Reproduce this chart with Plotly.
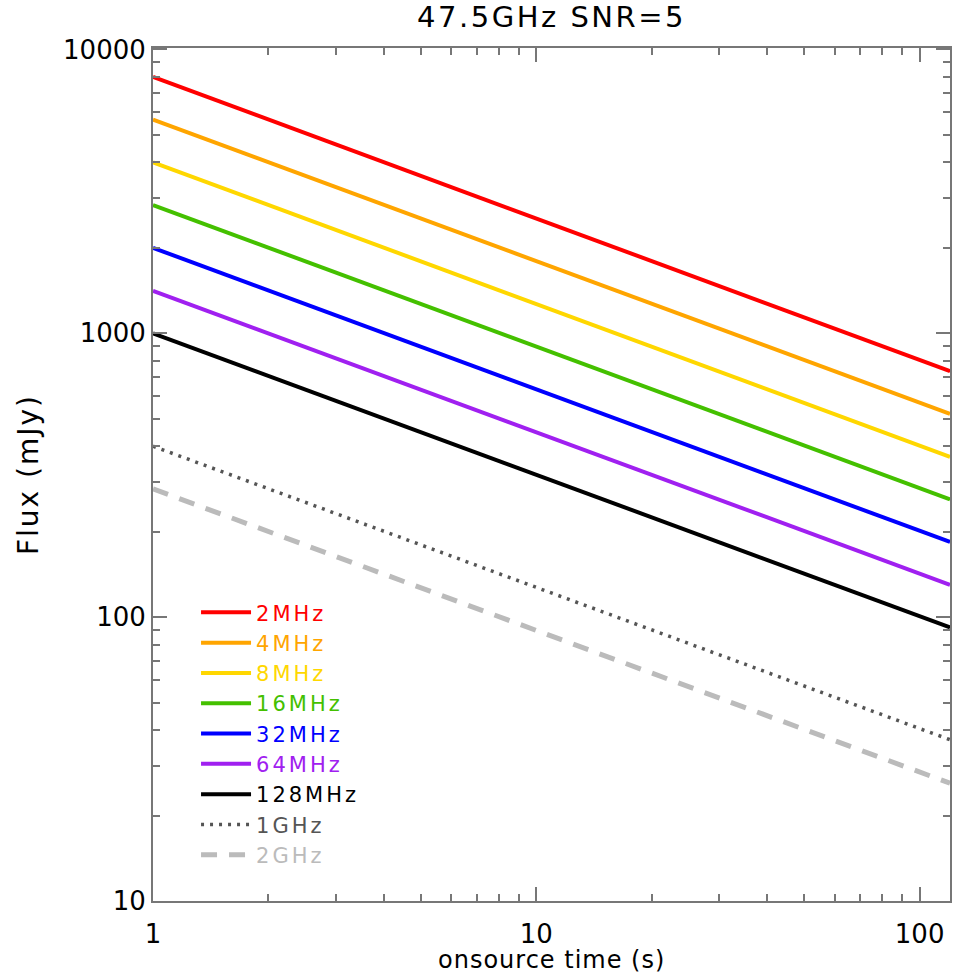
import plotly.graph_objects as go

# Data (flux in mJy at onsource time 1 s and 120 s)
times = [1, 120]
labels = ["2MHz", "4MHz", "8MHz", "16MHz", "32MHz", "64MHz", "128MHz", "1GHz", "2GHz"]
flux_at_1s = [8000, 5660, 4000, 2830, 2000, 1410, 1000, 400, 283]
flux_at_120s = [735, 520, 367, 260, 184, 130, 92, 37, 26]
colors = ["#FF0000", "#FFA500", "#FFD700", "#44C000", "#0000FF", "#A020F0",
          "#000000", "#555555", "#BBBBBB"]
dashes = ["solid"] * 7 + ["3px,6px", "16px,12px"]
widths = [4] * 7 + [3.5, 5]
x_ticks = [1, 10, 100]
y_ticks = [10, 100, 1000, 10000]

FONT = "DejaVu Sans"
fig = go.Figure()
for i, lab in enumerate(labels):
    fig.add_trace(go.Scatter(
        x=times, y=[flux_at_1s[i], flux_at_120s[i]], mode="lines",
        name=f"<span style='color:{colors[i]};letter-spacing:3px'>{lab}</span>",
        legendgroup=lab,
        line=dict(color=colors[i], width=widths[i], dash=dashes[i]),
    ))

axis_common = dict(
    type="log", ticks="inside", ticklen=14, tickwidth=1.5, tickcolor="#777",
    showline=True, linecolor="#777", linewidth=2, mirror="allticks",
    showgrid=False, zeroline=False, automargin=False,
    tickfont=dict(family=FONT, size=26, color="black"),
    minor=dict(ticks="inside", ticklen=7, tickwidth=1.5, tickcolor="#777",
               dtick="D1", showgrid=False),
)

W, H = 957, 977
PLOT_H = H - 48 - 76
fig.update_layout(
    width=W, height=H,
    margin=dict(l=153, r=7, t=48, b=76, autoexpand=False),
    paper_bgcolor="white", plot_bgcolor="white",
    title=dict(text="<span style='letter-spacing:2.5px'>47.5GHz SNR=5</span>",
               x=(153 + 950) / 2 / W, xanchor="center",
               y=1 - 17 / H, yanchor="middle", yref="container",
               font=dict(family=FONT, size=29, color="black")),
    xaxis=dict(axis_common, range=[0, 2.0792], tickvals=x_ticks,
               ticktext=[str(v) for v in x_ticks], ticklabelstandoff=9),
    yaxis=dict(axis_common, range=[1, 4.005], tickvals=y_ticks,
               ticktext=[str(v) for v in y_ticks],
               title=dict(text="<span style='letter-spacing:2px'>Flux (mJy)</span>",
                          standoff=16,
                          font=dict(family=FONT, size=28, color="black"))),
    legend=dict(x=0.054, y=0.362, xanchor="left", yanchor="top",
                bgcolor="rgba(0,0,0,0)", tracegroupgap=0, itemwidth=50,
                font=dict(family=FONT, size=21)),
    showlegend=True,
    annotations=[dict(text="<span style='letter-spacing:1px'>onsource time (s)</span>",
                      xref="paper", yref="paper",
                      x=0.5, y=-(960 - 901) / PLOT_H, xanchor="center",
                      yanchor="middle", showarrow=False, borderpad=0,
                      font=dict(family=FONT, size=24, color="black"))],
)

fig.write_html("out.html", config={"displayModeBar": False},
               post_script="document.body.style.margin='0';")
